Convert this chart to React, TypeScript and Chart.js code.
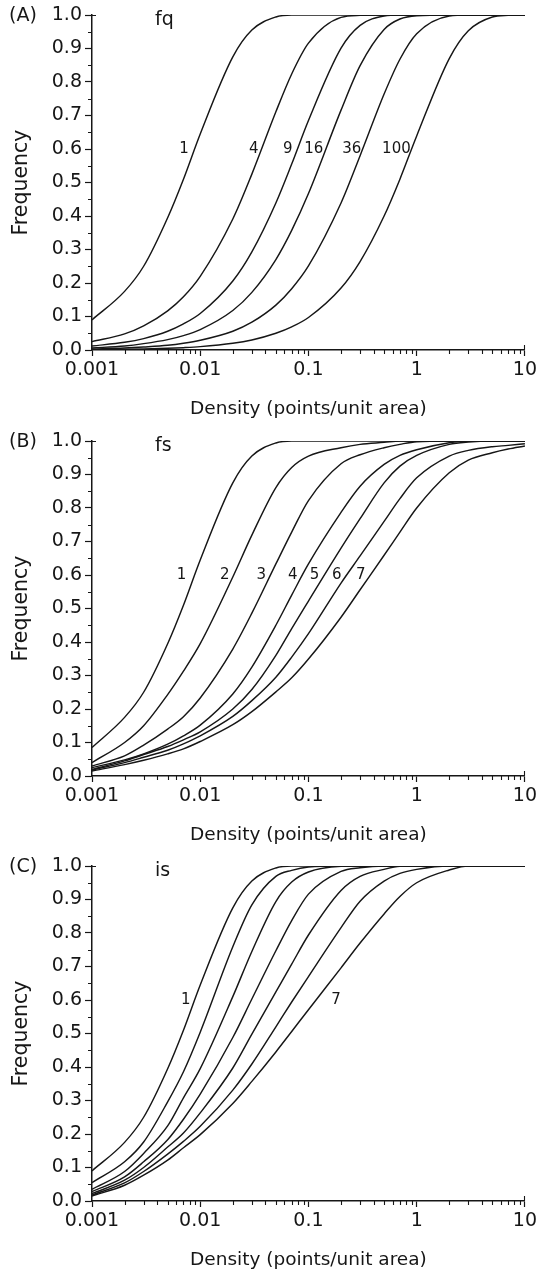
import React, { useEffect, useRef } from "react";
import { Chart, registerables } from "chart.js";

Chart.register(...registerables);

const FONT = "'DejaVu Sans', 'Liberation Sans', Arial, sans-serif";
const INK = "#161616";

// Density grid (points/unit area) shared by every curve
const densities = [0.001, 0.002, 0.003, 0.005, 0.007, 0.01, 0.02, 0.03, 0.05, 0.07, 0.1, 0.2, 0.3, 0.5, 0.7, 1, 2, 3, 5, 7, 10];

const xTickValues = [0.001, 0.01, 0.1, 1, 10];
const xTickLabels = ["0.001", "0.01", "0.1", "1", "10"];
const yTickValues = [0, 0.1, 0.2, 0.3, 0.4, 0.5, 0.6, 0.7, 0.8, 0.9, 1.0];
const yTickLabels = ["0.0", "0.1", "0.2", "0.3", "0.4", "0.5", "0.6", "0.7", "0.8", "0.9", "1.0"];

// (A) fq
const fq1 = [0.09, 0.175, 0.25, 0.395, 0.51, 0.645, 0.875, 0.955, 0.994, 1, 1, 1, 1, 1, 1, 1, 1, 1, 1, 1, 1];
const fq4 = [0.025, 0.048, 0.072, 0.117, 0.159, 0.22, 0.391, 0.525, 0.711, 0.824, 0.916, 0.993, 0.999, 1, 1, 1, 1, 1, 1, 1, 1];
const fq9 = [0.012, 0.023, 0.034, 0.056, 0.078, 0.109, 0.206, 0.293, 0.439, 0.555, 0.685, 0.901, 0.969, 0.997, 1, 1, 1, 1, 1, 1, 1];
const fq16 = [0.006, 0.012, 0.019, 0.031, 0.043, 0.061, 0.118, 0.172, 0.27, 0.357, 0.467, 0.716, 0.849, 0.957, 0.988, 0.998, 1, 1, 1, 1, 1];
const fq36 = [0.003, 0.006, 0.009, 0.014, 0.02, 0.029, 0.056, 0.083, 0.134, 0.183, 0.251, 0.439, 0.58, 0.764, 0.868, 0.944, 0.997, 1, 1, 1, 1];
const fq100 = [0.001, 0.002, 0.003, 0.005, 0.007, 0.01, 0.02, 0.03, 0.05, 0.069, 0.097, 0.185, 0.264, 0.4, 0.51, 0.639, 0.87, 0.953, 0.994, 0.999, 1];
const fqNames = ["1", "4", "9", "16", "36", "100"];
const fqLabelX = [0.0071, 0.0313, 0.0644, 0.112, 0.251, 0.65];

// (B) fs
const fs1 = [0.085, 0.175, 0.25, 0.395, 0.51, 0.645, 0.875, 0.955, 0.994, 1, 1, 1, 1, 1, 1, 1, 1, 1, 1, 1, 1];
const fs2 = [0.04, 0.1, 0.15, 0.243, 0.313, 0.395, 0.594, 0.719, 0.861, 0.921, 0.955, 0.98, 0.99, 0.996, 1, 1, 1, 1, 1, 1, 1];
const fs3 = [0.03, 0.06, 0.092, 0.14, 0.177, 0.233, 0.379, 0.486, 0.633, 0.728, 0.822, 0.932, 0.959, 0.98, 0.99, 0.998, 1, 1, 1, 1, 1];
const fs4 = [0.025, 0.048, 0.066, 0.095, 0.12, 0.152, 0.245, 0.325, 0.45, 0.54, 0.633, 0.787, 0.865, 0.93, 0.957, 0.974, 0.995, 1, 1, 1, 1];
const fs5 = [0.02, 0.045, 0.064, 0.088, 0.108, 0.132, 0.2, 0.258, 0.36, 0.44, 0.522, 0.68, 0.768, 0.875, 0.925, 0.957, 0.99, 0.997, 1, 1, 1];
const fs6 = [0.018, 0.04, 0.056, 0.077, 0.096, 0.12, 0.178, 0.225, 0.295, 0.355, 0.425, 0.576, 0.657, 0.76, 0.828, 0.89, 0.955, 0.972, 0.983, 0.987, 0.992];
const fs7 = [0.015, 0.034, 0.047, 0.066, 0.081, 0.103, 0.153, 0.192, 0.251, 0.293, 0.349, 0.474, 0.556, 0.659, 0.728, 0.8, 0.905, 0.943, 0.965, 0.976, 0.985];
const fsNames = ["1", "2", "3", "4", "5", "6", "7"];
const fsLabelX = [0.00671, 0.01684, 0.0366, 0.0716, 0.1135, 0.183, 0.305];

// (C) is
const is1 = [0.09, 0.175, 0.25, 0.395, 0.51, 0.645, 0.875, 0.955, 0.994, 1, 1, 1, 1, 1, 1, 1, 1, 1, 1, 1, 1];
const is2 = [0.055, 0.117, 0.176, 0.296, 0.386, 0.504, 0.759, 0.884, 0.969, 0.987, 0.997, 1, 1, 1, 1, 1, 1, 1, 1, 1, 1];
const is3 = [0.035, 0.088, 0.142, 0.224, 0.308, 0.395, 0.61, 0.745, 0.894, 0.952, 0.982, 0.999, 1, 1, 1, 1, 1, 1, 1, 1, 1];
const is4 = [0.028, 0.072, 0.117, 0.183, 0.244, 0.319, 0.488, 0.603, 0.747, 0.837, 0.916, 0.984, 0.995, 1, 1, 1, 1, 1, 1, 1, 1];
const is5 = [0.022, 0.062, 0.1, 0.161, 0.203, 0.263, 0.397, 0.498, 0.624, 0.707, 0.794, 0.927, 0.969, 0.99, 0.999, 1, 1, 1, 1, 1, 1];
const is6 = [0.018, 0.054, 0.088, 0.14, 0.178, 0.223, 0.331, 0.409, 0.52, 0.594, 0.67, 0.816, 0.895, 0.955, 0.978, 0.99, 1, 1, 1, 1, 1];
const is7 = [0.015, 0.047, 0.077, 0.122, 0.159, 0.198, 0.291, 0.357, 0.445, 0.506, 0.571, 0.696, 0.77, 0.857, 0.909, 0.95, 0.988, 1, 1, 1, 1];
const isNames = ["1", "7"];
const isLabelX = [0.00736, 0.1795];

const curveLabelY = 0.6;

const panels = [
  { letter: "(A)", tag: "fq", series: [fq1, fq4, fq9, fq16, fq36, fq100], names: fqNames, labelX: fqLabelX },
  { letter: "(B)", tag: "fs", series: [fs1, fs2, fs3, fs4, fs5, fs6, fs7], names: fsNames, labelX: fsLabelX },
  { letter: "(C)", tag: "is", series: [is1, is2, is3, is4, is5, is6, is7], names: isNames, labelX: isLabelX },
];

const PANEL_H = 426;
const PANEL_TOPS = [0, 426, 851];

const decorPlugin = {
  id: "decor",
  afterDraw(chart: any, _args: any, opts: any) {
    const { ctx, chartArea } = chart;
    const x = chart.scales.x;
    const y = chart.scales.y;
    ctx.save();
    ctx.strokeStyle = INK;
    ctx.lineWidth = 1.1;
    ctx.beginPath();
    // minor x ticks (log 2..9)
    for (let i = 0; i < xTickValues.length - 1; i++) {
      for (let k = 2; k <= 9; k++) {
        const px = Math.round(x.getPixelForValue(xTickValues[i] * k)) + 0.5;
        ctx.moveTo(px, chartArea.bottom);
        ctx.lineTo(px, chartArea.bottom + 4);
      }
    }
    // small upward tick at the right end of the x axis
    const rx = Math.round(chartArea.right) - 0.5;
    ctx.moveTo(rx, chartArea.bottom);
    ctx.lineTo(rx, chartArea.bottom - 5);
    // minor y ticks
    for (let i = 0; i < yTickValues.length - 1; i++) {
      const py = Math.round(y.getPixelForValue((yTickValues[i] + yTickValues[i + 1]) / 2)) + 0.5;
      ctx.moveTo(chartArea.left - 4, py);
      ctx.lineTo(chartArea.left, py);
    }
    // short tick to the right at the top of the y axis
    const ty = Math.round(chartArea.top) + 0.5;
    ctx.moveTo(chartArea.left, ty);
    ctx.lineTo(chartArea.left + 4, ty);
    ctx.stroke();

    ctx.fillStyle = INK;
    ctx.textBaseline = "middle";
    ctx.font = `19px ${FONT}`;
    ctx.textAlign = "left";
    ctx.fillText(opts.letter, 9, chartArea.top + 1);
    ctx.fillText(opts.tag, chartArea.left + 63, chartArea.top + 5);
    ctx.font = `15px ${FONT}`;
    ctx.textAlign = "center";
    opts.names.forEach((n: string, i: number) => {
      ctx.fillText(n, x.getPixelForValue(opts.labelX[i]), y.getPixelForValue(curveLabelY));
    });
    ctx.restore();
  },
};

function Panel({ index }: { index: number }) {
  const ref = useRef<HTMLCanvasElement | null>(null);
  const p = panels[index];
  useEffect(() => {
    if (!ref.current) return;
    const chart = new Chart(ref.current, {
      type: "line",
      data: {
        datasets: p.series.map((s, si) => ({
          label: p.tag + " " + String(si + 1),
          data: densities.map((d, i) => ({ x: d, y: s[i] })),
          borderColor: INK,
          borderWidth: 1.45,
          pointRadius: 0,
          fill: false,
          cubicInterpolationMode: "monotone" as const,
        })),
      },
      options: {
        animation: false,
        responsive: false,
        maintainAspectRatio: false,
        layout: { padding: { top: 15, right: 13, bottom: 0, left: 0 } },
        plugins: {
          legend: { display: false },
          tooltip: { enabled: false },
          decor: { letter: p.letter, tag: p.tag, names: p.names, labelX: p.labelX },
        } as any,
        scales: {
          x: {
            type: "logarithmic",
            min: 0.001,
            max: 10,
            afterBuildTicks: (scale: any) => {
              scale.ticks = xTickValues.map((v) => ({ value: v }));
            },
            afterFit: (scale: any) => {
              scale.height = 76;
            },
            ticks: {
              autoSkip: false,
              maxRotation: 0,
              padding: 3,
              color: INK,
              font: { family: FONT, size: 19 },
              callback: (_v: any, i: number) => xTickLabels[i],
            },
            grid: { display: true, drawOnChartArea: false, drawTicks: true, tickLength: 6, tickColor: INK, tickWidth: 1.2 },
            border: { display: true, color: INK, width: 1.5 },
            title: {
              display: true,
              text: "Density (points/unit area)",
              color: INK,
              font: { family: FONT, size: 18.5, lineHeight: 1 },
              padding: { top: 0, bottom: 8 },
            },
          },
          y: {
            type: "linear",
            min: 0,
            max: 1,
            afterBuildTicks: (scale: any) => {
              scale.ticks = yTickValues.map((v) => ({ value: v }));
            },
            afterFit: (scale: any) => {
              scale.width = 92;
            },
            ticks: {
              autoSkip: false,
              padding: 3,
              color: INK,
              font: { family: FONT, size: 19 },
              callback: (_v: any, i: number) => yTickLabels[i],
            },
            grid: { display: true, drawOnChartArea: false, drawTicks: true, tickLength: 7, tickColor: INK, tickWidth: 1.2 },
            border: { display: true, color: INK, width: 1.5 },
            title: {
              display: true,
              text: "Frequency",
              color: INK,
              font: { family: FONT, size: 20.5, lineHeight: 1 },
              padding: { top: 11, bottom: 0 },
            },
          },
        },
      },
      plugins: [decorPlugin],
    } as any);
    return () => chart.destroy();
  }, [index]);
  return (
    <div style={{ position: "absolute", left: 0, top: PANEL_TOPS[index], width: 540, height: PANEL_H }}>
      <canvas ref={ref} width={540} height={PANEL_H} style={{ display: "block", width: 540, height: PANEL_H }} />
    </div>
  );
}

export default function App() {
  return (
    <div style={{ position: "absolute", left: 0, top: 0, width: 540, height: 1274, overflow: "hidden", background: "#fff" }}>
      {panels.map((_, i) => (
        <Panel key={i} index={i} />
      ))}
    </div>
  );
}
